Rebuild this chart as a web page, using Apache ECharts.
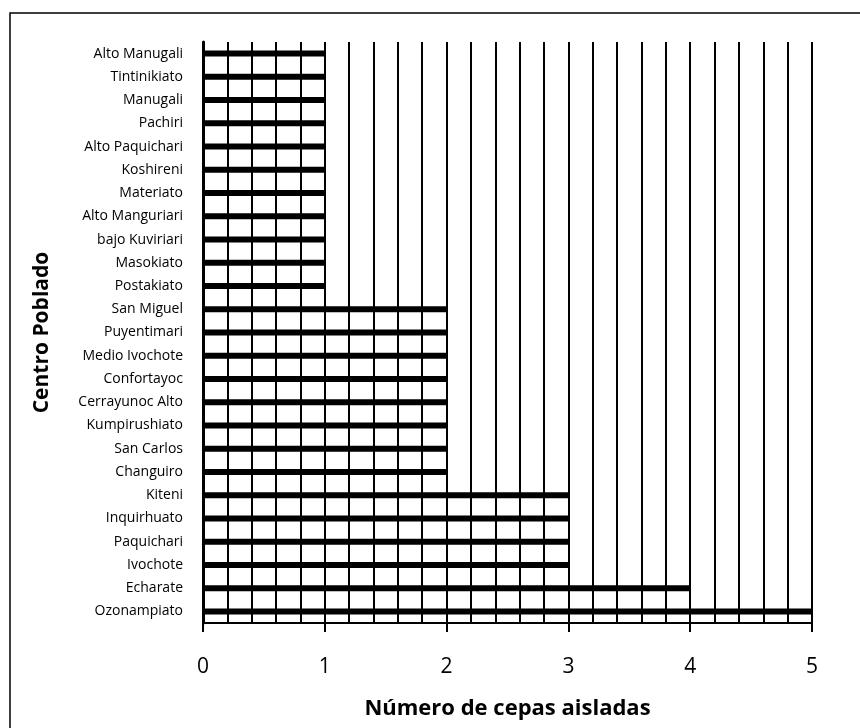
<!DOCTYPE html>
<html>
<head>
<meta charset="utf-8">
<script src="https://cdn.jsdelivr.net/npm/echarts@6/dist/echarts.min.js"></script>
<style>
  html, body { margin: 0; padding: 0; background: #fff; }
  #chart { width: 860px; height: 728px; }
</style>
</head>
<body>
<div id="chart"></div>
<script>
// Localities, listed bottom to top as the category axis draws them
const centros = [
  'Ozonampiato', 'Echarate', 'Ivochote', 'Paquichari', 'Inquirhuato', 'Kiteni',
  'Changuiro', 'San Carlos', 'Kumpirushiato', 'Cerrayunoc Alto', 'Confortayoc',
  'Medio Ivochote', 'Puyentimari', 'San Miguel', 'Postakiato', 'Masokiato',
  'bajo Kuviriari', 'Alto Manguriari', 'Materiato', 'Koshireni', 'Alto Paquichari',
  'Pachiri', 'Manugali', 'Tintinikiato', 'Alto Manugali'
];
// Number of isolated strains per locality
const cepas = [
  5, 4, 3, 3, 3, 3,
  2, 2, 2, 2, 2,
  2, 2, 2, 1, 1,
  1, 1, 1, 1, 1,
  1, 1, 1, 1
];
const xMin = 0, xMax = 5, xStep = 1;

const FONT = '"Open Sans", Lato, sans-serif';
const chart = echarts.init(document.getElementById('chart'), null, { renderer: 'canvas' });

chart.setOption({
  backgroundColor: '#ffffff',
  animation: false,
  graphic: [{
    type: 'rect',
    shape: { x: 10, y: 13, width: 900, height: 800 },
    style: { fill: 'none', stroke: '#000', lineWidth: 1.5 },
    silent: true
  }],
  grid: { left: 203, right: 48, top: 42, bottom: 105, containLabel: false },
  xAxis: {
    type: 'value',
    min: xMin, max: xMax, interval: xStep,
    name: 'Número de cepas aisladas',
    nameLocation: 'middle',
    nameGap: 75,
    nameTextStyle: { fontFamily: FONT, fontSize: 22, fontWeight: 'bold', color: '#000' },
    axisLine: { show: true, lineStyle: { color: '#000', width: 2 } },
    axisTick: { show: true, length: 9, lineStyle: { color: '#000', width: 2 } },
    axisLabel: { margin: 34, fontFamily: FONT, fontSize: 21, color: '#000' },
    splitLine: { show: true, lineStyle: { color: '#000', width: 2 } },
    minorTick: { show: false, splitNumber: 5 },
    minorSplitLine: { show: true, lineStyle: { color: '#000', width: 2 } }
  },
  yAxis: {
    type: 'category',
    data: centros,
    name: 'Centro Poblado',
    nameLocation: 'middle',
    nameGap: 150,
    nameTextStyle: { fontFamily: FONT, fontSize: 21, fontWeight: 'bold', color: '#000' },
    axisLine: { show: true, lineStyle: { color: '#000', width: 3 } },
    axisTick: { show: false },
    axisLabel: { margin: 20, fontFamily: FONT, fontSize: 14, color: '#000' },
    splitLine: { show: false }
  },
  series: [{
    type: 'bar',
    data: cepas,
    barWidth: 6,
    itemStyle: { color: '#000' },
    z: 3
  }]
});
</script>
</body>
</html>
